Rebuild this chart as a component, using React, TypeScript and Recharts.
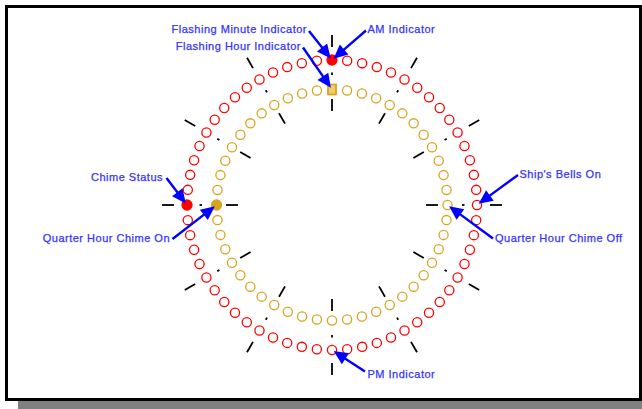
import { Pie, PieChart } from 'recharts';

const RAD = Math.PI / 180;

// LED rings of the clock face
const MINUTE_LEDS = 60;
const HOUR_LEDS = 48;
const HOUR_MARKS = 12;
const LIT_MINUTES = [0, 45];
const LIT_HOURS = [36];
const FLASHING_HOURS = [0];

const MINUTE_NOTES = [
  { index: 0, text: 'Flashing Minute Indicator' },
  { index: 0, text: 'AM Indicator' },
  { index: 15, text: "Ship's Bells On" },
  { index: 30, text: 'PM Indicator' },
  { index: 45, text: 'Chime Status' },
];

const HOUR_NOTES = [
  { index: 0, text: 'Flashing Hour Indicator' },
  { index: 12, text: 'Quarter Hour Chime Off' },
  { index: 36, text: 'Quarter Hour Chime On' },
];

// where each callout text sits and where its arrow starts
const NOTE_LAYOUT: Record<string, { x: number; y: number; anchor: 'start' | 'end'; tx: number; ty: number }> = {
  'Flashing Minute Indicator': { x: 307, y: 29, anchor: 'end', tx: 309, ty: 31 },
  'AM Indicator': { x: 367.5, y: 29, anchor: 'start', tx: 366, ty: 30.5 },
  'Flashing Hour Indicator': { x: 301, y: 46, anchor: 'end', tx: 303, ty: 47.5 },
  'Chime Status': { x: 163, y: 176.5, anchor: 'end', tx: 166.5, ty: 178 },
  'Quarter Hour Chime On': { x: 170, y: 238, anchor: 'end', tx: 172.5, ty: 239 },
  "Ship's Bells On": { x: 519.5, y: 173.5, anchor: 'start', tx: 518, ty: 175 },
  'Quarter Hour Chime Off': { x: 495, y: 237.5, anchor: 'start', tx: 493, ty: 238.5 },
  'PM Indicator': { x: 367.5, y: 374, anchor: 'start', tx: 365, ty: 371.5 },
};

const RED = '#ff0000';
const GOLD = '#d9a520';
const BLUE = '#0000ff';
const TEXT_BLUE = '#3333ff';
const CX = 332;
const CY = 205;

const minuteData = Array.from({ length: MINUTE_LEDS }, (_, i) => ({ name: `m${i}`, value: 1 }));
const hourData = Array.from({ length: HOUR_LEDS }, (_, i) => ({ name: `h${i}`, value: 1 }));
const markData = Array.from({ length: HOUR_MARKS }, (_, i) => ({ name: `k${i}`, value: 1 }));

const polar = (cx: number, cy: number, r: number, angle: number) => ({
  x: cx + r * Math.cos(-angle * RAD),
  y: cy + r * Math.sin(-angle * RAD),
});

const ringRadius = (p: any) => (Number(p.innerRadius) + Number(p.outerRadius)) / 2;

function minuteLed(p: any) {
  const { x, y } = polar(p.cx, p.cy, ringRadius(p), p.midAngle);
  const lit = LIT_MINUTES.includes(p.index);
  return (
    <circle key={`ml${p.index}`} cx={x} cy={y} r={lit ? 5 : 4.6} fill={lit ? RED : 'none'} stroke={RED} strokeWidth={1.3} />
  );
}

function hourLed(p: any) {
  const { x, y } = polar(p.cx, p.cy, ringRadius(p), p.midAngle);
  if (FLASHING_HOURS.includes(p.index)) {
    return <rect key={`hl${p.index}`} x={x - 4} y={y - 5} width={8} height={10} fill="#ecd070" stroke={GOLD} strokeWidth={1.8} />;
  }
  const lit = LIT_HOURS.includes(p.index);
  return (
    <circle key={`hl${p.index}`} cx={x} cy={y} r={lit ? 5 : 4.6} fill={lit ? GOLD : 'none'} stroke={GOLD} strokeWidth={1.3} />
  );
}

function hourMark(p: any) {
  const seg = (r1: number, r2: number) => {
    const a = polar(p.cx, p.cy, r1, p.midAngle);
    const b = polar(p.cx, p.cy, r2, p.midAngle);
    return <line x1={a.x} y1={a.y} x2={b.x} y2={b.y} stroke="#000" strokeWidth={1.8} />;
  };
  return (
    <g key={`hm${p.index}`}>
      {seg(158, 170)}
      {seg(130, 132.5)}
      {seg(94, 106)}
    </g>
  );
}

function Arrow({ x1, y1, x2, y2 }: { x1: number; y1: number; x2: number; y2: number }) {
  const len = Math.hypot(x2 - x1, y2 - y1);
  const ux = (x2 - x1) / len;
  const uy = (y2 - y1) / len;
  const head = 14;
  const half = 6.5;
  const bx = x2 - ux * head;
  const by = y2 - uy * head;
  return (
    <g>
      <line x1={x1} y1={y1} x2={bx + ux} y2={by + uy} stroke={BLUE} strokeWidth={2.4} />
      <polygon
        points={`${x2},${y2} ${bx - uy * half},${by + ux * half} ${bx + uy * half},${by - ux * half}`}
        fill={BLUE}
      />
    </g>
  );
}

const noteLabel = (notes: { index: number; text: string }[]) => (p: any) => {
  const mine = notes.filter((n) => n.index === p.index);
  if (mine.length === 0) return null;
  const led = polar(p.cx, p.cy, ringRadius(p), p.midAngle);
  return (
    <g key={`n${p.index}`}>
      {mine.map((n) => {
        const l = NOTE_LAYOUT[n.text];
        const d = Math.hypot(l.tx - led.x, l.ty - led.y);
        const tipX = led.x + ((l.tx - led.x) / d) * 2;
        const tipY = led.y + ((l.ty - led.y) / d) * 2;
        return (
          <g key={n.text}>
            <Arrow x1={l.tx} y1={l.ty} x2={tipX} y2={tipY} />
            <text
              x={l.x}
              y={l.y}
              textAnchor={l.anchor}
              dominantBaseline="central"
              fontFamily="'Liberation Sans', Arial, sans-serif"
              fontSize={11}
              letterSpacing={0.5}
              fill={TEXT_BLUE}
              stroke={TEXT_BLUE}
              strokeWidth={0.25}
            >
              {n.text}
            </text>
          </g>
        );
      })}
    </g>
  );
};

export default function App() {
  return (
    <div style={{ position: 'absolute', left: 0, top: 0, width: 642, height: 409, background: '#fff', overflow: 'hidden' }}>
      <div style={{ position: 'absolute', left: 18, top: 401, width: 640, height: 12, background: '#808080' }} />
      <div
        style={{
          position: 'absolute',
          left: 5,
          top: 5,
          width: 631,
          height: 390,
          border: '3px solid #000',
          background: '#fff',
        }}
      />
      <div style={{ position: 'absolute', left: 0, top: 0 }}>
        <PieChart width={642} height={409} margin={{ top: 0, right: 0, bottom: 0, left: 0 }}>
          <Pie
            data={markData}
            dataKey="value"
            cx={CX}
            cy={CY}
            innerRadius={131}
            outerRadius={132}
            startAngle={105}
            endAngle={-255}
            fill="none"
            stroke="none"
            label={hourMark}
            labelLine={false}
            isAnimationActive={false}
          />
          <Pie
            data={minuteData}
            dataKey="value"
            cx={CX}
            cy={CY}
            innerRadius={144.5}
            outerRadius={145.5}
            startAngle={93}
            endAngle={-267}
            fill="none"
            stroke="none"
            label={minuteLed}
            labelLine={false}
            isAnimationActive={false}
          />
          <Pie
            data={hourData}
            dataKey="value"
            cx={CX}
            cy={CY}
            innerRadius={115}
            outerRadius={116}
            startAngle={93.75}
            endAngle={-266.25}
            fill="none"
            stroke="none"
            label={hourLed}
            labelLine={false}
            isAnimationActive={false}
          />
          <Pie
            data={minuteData}
            dataKey="value"
            cx={CX}
            cy={CY}
            innerRadius={144.5}
            outerRadius={145.5}
            startAngle={93}
            endAngle={-267}
            fill="none"
            stroke="none"
            label={noteLabel(MINUTE_NOTES)}
            labelLine={false}
            isAnimationActive={false}
          />
          <Pie
            data={hourData}
            dataKey="value"
            cx={CX}
            cy={CY}
            innerRadius={115}
            outerRadius={116}
            startAngle={93.75}
            endAngle={-266.25}
            fill="none"
            stroke="none"
            label={noteLabel(HOUR_NOTES)}
            labelLine={false}
            isAnimationActive={false}
          />
        </PieChart>
      </div>
    </div>
  );
}
